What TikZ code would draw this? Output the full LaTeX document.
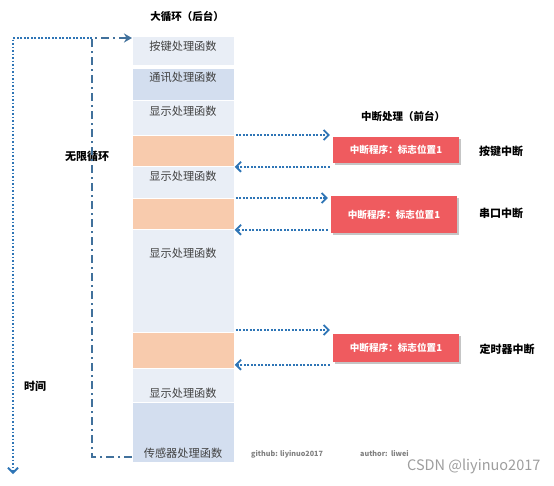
\documentclass[tikz,border=0pt]{standalone}
\usepackage{fontspec}
\setmainfont{Noto Sans CJK SC}
\usetikzlibrary{arrows.meta,shadows}
\definecolor{lightblk}{HTML}{E9EEF6}
\definecolor{darkblk}{HTML}{D3DEEF}
\definecolor{orangeblk}{HTML}{F8CBAD}
\definecolor{redbox}{HTML}{EF5B5F}
\definecolor{arrblue}{HTML}{2E75B6}
\definecolor{loopblue}{HTML}{41719C}
\definecolor{blktext}{HTML}{404040}
\begin{document}
\begin{tikzpicture}[x=1pt,y=-1pt,
  blk/.style={draw=white,line width=0.8pt,minimum width=102pt,inner sep=0pt,anchor=north west},
  blktxt/.style={text=blktext,font=\fontsize{11.2}{13}\selectfont,inner sep=0pt},
  rbox/.style={fill=redbox,minimum width=126pt,inner sep=0pt,text=white,
     font=\bfseries\fontsize{9.6}{11}\selectfont,
     drop shadow={opacity=0.45,shadow xshift=2pt,shadow yshift=-2pt,fill=gray}},
  arr/.style={arrblue,line width=1.9pt,dash pattern=on 1.9pt off 1.6pt,
     -{Straight Barb[length=5pt,width=10pt,line width=1.8pt]}},
  loopln/.style={loopblue,line width=1.9pt,dash pattern=on 8pt off 4pt on 2pt off 4pt,
     -{Stealth[length=8pt,width=9pt]}},
  timeln/.style={arrblue,line width=1.9pt,dash pattern=on 1.9pt off 1.6pt,
     -{Straight Barb[length=5pt,width=10pt,line width=1.8pt]}},
  ttl/.style={font=\bfseries\fontsize{10.5}{12}\selectfont,inner sep=0pt},
  lbl/.style={font=\bfseries\fontsize{11}{13}\selectfont,inner sep=0pt},
  foot/.style={font=\bfseries\fontsize{7.2}{8}\selectfont,text=gray,inner sep=0pt,anchor=west}]
\useasboundingbox[fill=white] (0,0) rectangle (554,485);

% background column blocks
\node[blk,fill=lightblk,minimum height=29pt] (b1) at (132,36) {};
\node[blk,fill=darkblk,minimum height=32pt] (b2) at (132,68) {};
\node[blk,fill=lightblk,minimum height=35pt] (b3) at (132,100) {};
\node[blk,fill=orangeblk,minimum height=31pt] (b4) at (132,135) {};
\node[blk,fill=lightblk,minimum height=32pt] (b5) at (132,166) {};
\node[blk,fill=orangeblk,minimum height=31pt] (b6) at (132,198) {};
\node[blk,fill=lightblk,minimum height=103pt] (b7) at (132,229) {};
\node[blk,fill=orangeblk,minimum height=36pt] (b8) at (132,332) {};
\node[blk,fill=lightblk,minimum height=34pt] (b9) at (132,368) {};
\node[blk,fill=darkblk,minimum height=60pt] (b10) at (132,402) {};

\node[blktxt] (t1) at (183,46) {按键处理函数};
\node[blktxt] (t2) at (183,77) {通讯处理函数};
\node[blktxt] (t3) at (183,111) {显示处理函数};
\node[blktxt] (t5) at (183,176) {显示处理函数};
\node[blktxt] (t7) at (183,253) {显示处理函数};
\node[blktxt] (t9) at (183,393) {显示处理函数};
\node[blktxt] (t10) at (183,453) {传感器处理函数};

% titles and labels
\node[ttl] (title1) at (187,16) {大循环（后台）};
\node[ttl] (title2) at (403,116) {中断处理（前台）};
\node[lbl] (loopl) at (87,156) {无限循环};
\node[lbl] (timel) at (35,386) {时间};
\node[lbl] (k1) at (501,151) {按键中断};
\node[lbl] (k2) at (501,213) {串口中断};
\node[lbl] (k3) at (507,349) {定时器中断};

% interrupt boxes
\node[rbox,minimum height=26pt] (r1) at (396,150) {中断程序：标志位置1};
\node[rbox,minimum height=37pt] (r2) at (394,214.5) {中断程序：标志位置1};
\node[rbox,minimum height=28pt] (r3) at (396,348) {中断程序：标志位置1};

% interrupt arrows
\draw[arr,shorten <=1pt,shorten >=3pt] (b4.north east) -- (b4.north east -| r1.west);
\draw[arr,shorten <=3pt] (b4.south east -| r1.west) -- (b4.south east);
\draw[arr,shorten <=1pt,shorten >=3pt] (b6.north east) -- (b6.north east -| r2.west);
\draw[arr,shorten <=3pt] (b6.south east -| r2.west) -- (b6.south east);
\draw[arr,shorten <=1pt,shorten >=3pt] ([yshift=2pt]b8.north east) -- ([yshift=2pt]b8.north east -| r3.west);
\draw[arr,shorten <=3pt] ([yshift=4pt]b8.south east -| r3.west) -- ([yshift=4pt]b8.south east);

% loop and time lines
\coordinate (lt) at (92,38);
\coordinate (lb) at (92,457);
\coordinate (tt) at (13,38);
\coordinate (tb) at (13,474);
\draw[loopln] (b10.west |- lb) -- (lb) -- (lt) -- (b1.west |- lt);
\draw[timeln] (lt) -- (tt) -- (tb);

% footer
\node[foot] (gh) at (251,454) {github: liyinuo2017};
\node[foot] (au) at (360,454) {author:\ \ liwei};
\node[font=\fontsize{14.5}{16}\selectfont,text=black!38,inner sep=0pt,anchor=west] (csdn) at (407,466) {CSDN @liyinuo2017};
\end{tikzpicture}
\end{document}
